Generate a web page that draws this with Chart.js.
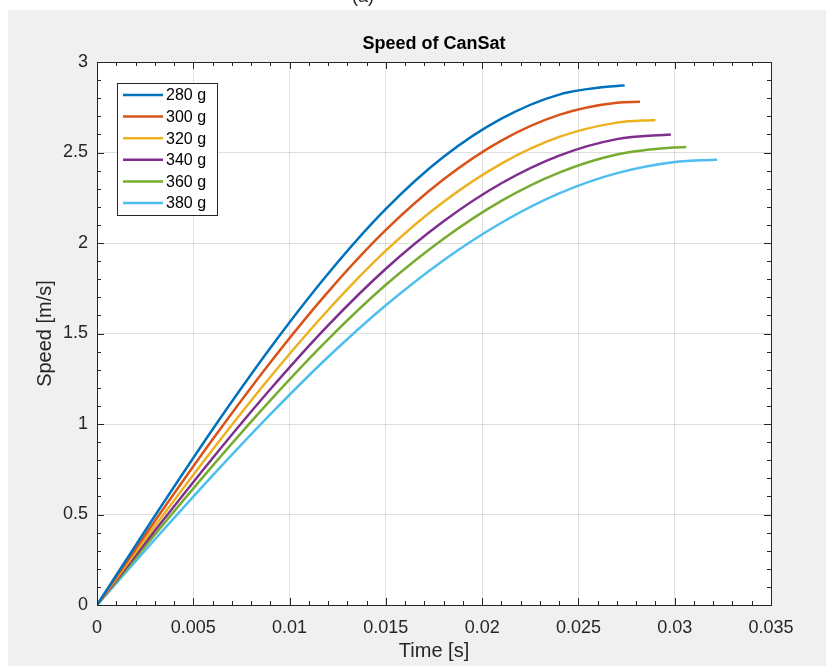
<!DOCTYPE html>
<html>
<head>
<meta charset="utf-8">
<script src="https://cdn.jsdelivr.net/npm/chart.js@4"></script>
<style>
  html, body { margin: 0; padding: 0; background: #fff; overflow: hidden; }
  #wrap { position: relative; width: 826px; height: 666px; }
  #cap { position: absolute; left: 352px; top: -14px; font: 18px "Liberation Sans", Arial, sans-serif; color: #222; }
  canvas { position: absolute; left: 0; top: 0; }
</style>
</head>
<body>
<div id="wrap">
  <canvas id="speedChart" width="826" height="666"></canvas>
  <div id="cap">(a)</div>
</div>
<script>
// sample times (s), each series stops at its own end time
const tSteps = [0, 0.003, 0.006, 0.009, 0.012, 0.015, 0.018, 0.021, 0.024, 0.027, 0.030];
const endTimes = [0.0274, 0.0282, 0.0290, 0.0298, 0.0306, 0.0322];

const massLabels = ['280 g', '300 g', '320 g', '340 g', '360 g', '380 g'];
const speed280 = [0, 0.492, 0.970, 1.420, 1.830, 2.188, 2.476, 2.687, 2.820, 2.868, 2.87];
const speed300 = [0, 0.463, 0.914, 1.340, 1.730, 2.072, 2.352, 2.566, 2.708, 2.775, 2.78];
const speed320 = [0, 0.435, 0.858, 1.260, 1.630, 1.958, 2.228, 2.439, 2.586, 2.665, 2.68];
const speed340 = [0, 0.410, 0.811, 1.192, 1.545, 1.858, 2.120, 2.330, 2.483, 2.574, 2.60];
const speed360 = [0, 0.389, 0.769, 1.131, 1.468, 1.769, 2.024, 2.233, 2.389, 2.489, 2.528, 2.53];
const speed380 = [0, 0.362, 0.715, 1.053, 1.370, 1.656, 1.905, 2.112, 2.274, 2.386, 2.448, 2.46];

const xTickLabels = ['0', '0.005', '0.01', '0.015', '0.02', '0.025', '0.03', '0.035'];
const yTickLabels = ['0', '0.5', '1', '1.5', '2', '2.5', '3'];

const colors = ['#0072BD', '#D95319', '#EDB120', '#7E2F8E', '#77AC30', '#4DBEEE'];
const allSpeeds = [speed280, speed300, speed320, speed340, speed360, speed380];

const FONT = '"Liberation Sans", Arial, Helvetica, sans-serif';
const INK = '#262626';

function buildPoints(speeds, tEnd) {
  const times = tSteps.filter(t => t < tEnd - 1e-9).concat([tEnd]);
  return speeds.map((v, i) => ({ x: times[i], y: v }));
}

const datasets = massLabels.map((lab, i) => ({
  label: lab,
  data: buildPoints(allSpeeds[i], endTimes[i]),
  borderColor: colors[i],
  backgroundColor: colors[i],
  borderWidth: 2.5,
  pointRadius: 0,
  fill: false,
  cubicInterpolationMode: 'monotone'
}));

// grey figure, white axes
const figureBg = {
  id: 'figureBg',
  beforeDraw(chart) {
    const ctx = chart.ctx, a = chart.chartArea;
    ctx.save();
    ctx.fillStyle = '#ffffff';
    ctx.fillRect(0, 0, chart.width, chart.height);
    ctx.fillStyle = '#f0f0f0';
    ctx.fillRect(8, 10, chart.width - 8, chart.height - 10);
    ctx.fillStyle = '#ffffff';
    ctx.fillRect(a.left, a.top, a.right - a.left, a.bottom - a.top);
    ctx.restore();
  }
};

// box, inward ticks, titles and legend
const matlabAxes = {
  id: 'matlabAxes',
  afterDraw(chart) {
    const ctx = chart.ctx, a = chart.chartArea;
    const xs = chart.scales.x, ys = chart.scales.y;
    ctx.save();
    ctx.strokeStyle = INK;
    ctx.lineWidth = 1;
    ctx.beginPath();
    // x ticks, minor every 0.001
    for (let i = 0; i <= 35; i++) {
      const px = Math.round(xs.getPixelForValue(i * 0.001)) + 0.5;
      const len = i % 5 === 0 ? 7 : 4;
      ctx.moveTo(px, a.bottom); ctx.lineTo(px, a.bottom - len);
      ctx.moveTo(px, a.top); ctx.lineTo(px, a.top + len);
    }
    // y ticks, minor every 0.1
    for (let i = 0; i <= 30; i++) {
      const py = Math.round(ys.getPixelForValue(i * 0.1)) + 0.5;
      const len = i % 5 === 0 ? 7 : 4;
      ctx.moveTo(a.left, py); ctx.lineTo(a.left + len, py);
      ctx.moveTo(a.right, py); ctx.lineTo(a.right - len, py);
    }
    ctx.stroke();
    ctx.strokeRect(Math.round(a.left) + 0.5, Math.round(a.top) + 0.5,
      Math.round(a.right - a.left), Math.round(a.bottom - a.top));

    // title and axis labels
    const cx = (a.left + a.right) / 2;
    ctx.fillStyle = '#000';
    ctx.textAlign = 'center';
    ctx.textBaseline = 'middle';
    ctx.font = 'bold 18px ' + FONT;
    ctx.fillText('Speed of CanSat', cx, 44);
    ctx.fillStyle = INK;
    ctx.font = '20px ' + FONT;
    ctx.fillText('Time [s]', cx, 651);
    ctx.save();
    ctx.translate(45, (a.top + a.bottom) / 2);
    ctx.rotate(-Math.PI / 2);
    ctx.fillText('Speed [m/s]', 0, 0);
    ctx.restore();

    // legend
    const lx = 117, ly = 83, lw = 100, lh = 132;
    ctx.fillStyle = '#fff';
    ctx.fillRect(lx, ly, lw, lh);
    ctx.strokeStyle = INK;
    ctx.strokeRect(lx + 0.5, ly + 0.5, lw, lh);
    ctx.font = '16px ' + FONT;
    ctx.textAlign = 'left';
    chart.data.datasets.forEach((ds, i) => {
      const y = 95 + i * 21.6;
      ctx.strokeStyle = ds.borderColor;
      ctx.lineWidth = 2.5;
      ctx.beginPath();
      ctx.moveTo(123, y); ctx.lineTo(163, y);
      ctx.stroke();
      ctx.fillStyle = '#000';
      ctx.fillText(ds.label, 166, y + 1);
    });
    ctx.restore();
  }
};

const ctx = document.getElementById('speedChart').getContext('2d');
const speedChart = new Chart(ctx, {
  type: 'line',
  data: { datasets: datasets },
  options: {
    responsive: false,
    animation: false,
    events: [],
    layout: { padding: { top: 62, right: 55, left: 0, bottom: 0 } },
    plugins: {
      legend: { display: false },
      title: { display: false },
      tooltip: { enabled: false }
    },
    scales: {
      x: {
        type: 'linear',
        min: 0,
        max: 0.035,
        afterFit: s => { s.height = 61; },
        grid: { color: 'rgba(38,38,38,0.15)', drawTicks: false },
        border: { display: false },
        ticks: {
          stepSize: 0.005,
          padding: 12,
          maxRotation: 0,
          color: INK,
          font: { family: FONT, size: 18 },
          callback: (v, i) => xTickLabels[i]
        }
      },
      y: {
        type: 'linear',
        min: 0,
        max: 3,
        afterFit: s => { s.width = 97; },
        grid: { color: 'rgba(38,38,38,0.15)', drawTicks: false },
        border: { display: false },
        ticks: {
          stepSize: 0.5,
          padding: 9,
          color: INK,
          font: { family: FONT, size: 18 },
          callback: (v, i) => yTickLabels[i]
        }
      }
    }
  },
  plugins: [figureBg, matlabAxes]
});
</script>
</body>
</html>
